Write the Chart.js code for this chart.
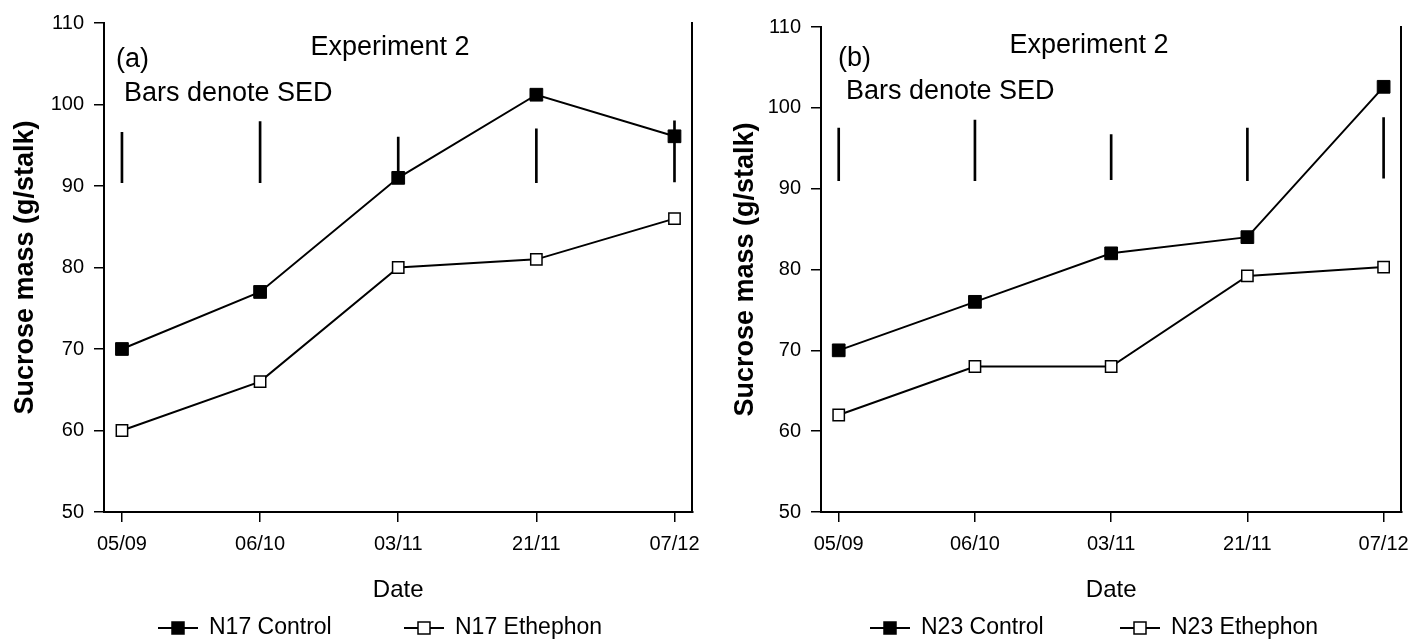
<!DOCTYPE html>
<html><head><meta charset="utf-8">
<script src="https://cdn.jsdelivr.net/npm/chart.js@4.4.0/dist/chart.umd.min.js"></script>
<style>
html,body{margin:0;padding:0;background:#fff;}
#wrap{position:relative;width:1419px;height:640px;background:#fff;}
.pane{position:absolute;top:0;height:640px;}
#pa{left:0;width:710px;}
#pb{left:710px;width:709px;}
</style></head><body>
<div id="wrap">
<div class="pane" id="pa"><canvas id="ca"></canvas></div>
<div class="pane" id="pb"><canvas id="cb"></canvas></div>
</div>
<script>
// ---- data ----
const dates = ['05/09', '06/10', '03/11', '21/11', '07/12'];
const yTicks = [50, 60, 70, 80, 90, 100, 110];

const n17Control  = [70, 77, 91, 101.2, 96.1];
const n17Ethephon = [60, 66, 80, 81, 86];
const n17SedLow   = [90.4, 90.4, 91, 90.4, 90.5];
const n17SedHigh  = [96.6, 97.9, 96, 97, 98];

const n23Control  = [70, 76, 82, 84, 102.6];
const n23Ethephon = [62, 68, 68, 79.2, 80.3];
const n23SedLow   = [91, 91, 91.1, 91, 91.3];
const n23SedHigh  = [97.5, 98.5, 96.7, 97.5, 98.8];

const FAM = '"Liberation Sans", Arial, Helvetica, sans-serif';

const notesPlugin = {
  id: 'notes',
  afterDraw(chart, args, opts) {
    const ctx = chart.ctx;
    ctx.save();
    (opts.items || []).forEach(it => {
      ctx.font = it.font;
      ctx.fillStyle = '#000';
      ctx.textAlign = it.align || 'left';
      ctx.textBaseline = 'alphabetic';
      ctx.fillText(it.text, it.x, it.y);
    });
    const lg = opts.legend;
    if (lg) {
      const lines = chart.data.datasets.filter(d => d.type === 'line');
      lines.forEach((ds, i) => {
        const x = lg.xs[i], y = lg.y, s = lg.box;
        ctx.strokeStyle = '#000';
        ctx.lineWidth = 2;
        ctx.beginPath(); ctx.moveTo(x, y); ctx.lineTo(x + lg.w, y); ctx.stroke();
        const cx = x + lg.w / 2;
        ctx.fillStyle = ds.pointBackgroundColor;
        ctx.fillRect(cx - s / 2, y - s / 2, s, s);
        ctx.lineWidth = 1.5;
        ctx.strokeRect(cx - s / 2, y - s / 2, s, s);
        ctx.fillStyle = '#000';
        ctx.font = lg.font;
        ctx.textAlign = 'left';
        ctx.textBaseline = 'middle';
        ctx.fillText(ds.label, x + lg.w + lg.gap, y);
      });
    }
    ctx.restore();
  }
};

function build(canvasId, labels, ctrl, eth, sedLo, sedHi, layout) {
  const pts = arr => dates.map((_, i) => ({ x: i, y: arr[i] }));
  const tickFont = { family: FAM, size: 20 };
  return new Chart(document.getElementById(canvasId), {
    type: 'line',
    data: {
      datasets: [
        {
          type: 'bar', label: 'SED',
          data: dates.map((_, i) => ({ x: i, y: [sedLo[i], sedHi[i]] })),
          backgroundColor: '#000', borderWidth: 0, barThickness: 2, grouped: false, order: 3
        },
        {
          type: 'line', label: labels[0], data: pts(ctrl),
          borderColor: '#000', borderWidth: 2, tension: 0,
          pointStyle: 'rect', pointRadius: 9, pointBackgroundColor: '#000',
          pointBorderColor: '#000', pointBorderWidth: 1, order: 1
        },
        {
          type: 'line', label: labels[1], data: pts(eth),
          borderColor: '#000', borderWidth: 2, tension: 0,
          pointStyle: 'rect', pointRadius: 8, pointBackgroundColor: '#fff',
          pointBorderColor: '#000', pointBorderWidth: 1.5, order: 2
        }
      ]
    },
    options: {
      responsive: true, maintainAspectRatio: false, animation: false,
      layout: { padding: layout.padding },
      plugins: {
        legend: { display: false }, tooltip: { enabled: false },
        notes: { items: layout.items, legend: layout.legend }
      },
      scales: {
        x: {
          type: 'linear', min: -0.13, max: 4.13, offset: false,
          afterBuildTicks: s => { s.ticks = dates.map((_, i) => ({ value: i })); },
          ticks: { callback: v => dates[v], font: tickFont, color: '#000', padding: 10, maxRotation: 0, autoSkip: false },
          grid: { display: true, offset: false, drawOnChartArea: false, drawTicks: true, tickLength: 10, color: '#000', lineWidth: 1.5 },
          border: { display: true, color: '#000', width: 2 },
          title: { display: true, text: 'Date', color: '#000', font: { family: FAM, size: 24, lineHeight: 1 }, padding: { top: 0, bottom: 0 } },
          afterFit: s => { s.height = 90; }
        },
        y: {
          type: 'linear', min: yTicks[0], max: yTicks[yTicks.length - 1],
          afterBuildTicks: s => { s.ticks = yTicks.map(v => ({ value: v })); },
          ticks: { font: tickFont, color: '#000', padding: 10 },
          grid: { display: true, drawOnChartArea: false, drawTicks: true, tickLength: 10, color: '#000', lineWidth: 1.5 },
          border: { display: true, color: '#000', width: 2 },
          title: { display: true, text: 'Sucrose mass (g/stalk)', color: '#000', font: { family: FAM, size: 27, weight: 'bold', lineHeight: 1 }, padding: { top: layout.titlePad, bottom: 0 } },
          afterFit: s => { s.width = layout.yWidth; }
        },
        y2: {
          type: 'linear', position: 'right', min: yTicks[0], max: yTicks[yTicks.length - 1],
          ticks: { display: false }, grid: { display: false },
          border: { display: true, color: '#000', width: 2 },
          afterFit: s => { s.width = 0; }
        }
      }
    },
    plugins: [notesPlugin]
  });
}

const noteFont = '27px ' + FAM;
build('ca', ['N17 Control', 'N17 Ethephon'], n17Control, n17Ethephon, n17SedLow, n17SedHigh, {
  padding: { left: 0, right: 16, top: 23, bottom: 38 },
  yWidth: 104, titlePad: 12,
  items: [
    { text: 'Experiment 2', x: 390, y: 55, font: noteFont, align: 'center' },
    { text: '(a)', x: 116, y: 67, font: noteFont },
    { text: 'Bars denote SED', x: 124, y: 101, font: noteFont }
  ],
  legend: { xs: [158, 404], y: 628, w: 40, box: 12, gap: 11, font: '23px ' + FAM }
});
build('cb', ['N23 Control', 'N23 Ethephon'], n23Control, n23Ethephon, n23SedLow, n23SedHigh, {
  padding: { left: 0, right: 12, top: 27, bottom: 38 },
  yWidth: 111, titlePad: 22,
  items: [
    { text: 'Experiment 2', x: 379, y: 53, font: noteFont, align: 'center' },
    { text: '(b)', x: 128, y: 66, font: noteFont },
    { text: 'Bars denote SED', x: 136, y: 99, font: noteFont }
  ],
  legend: { xs: [160, 410], y: 628, w: 40, box: 12, gap: 11, font: '23px ' + FAM }
});
</script>
</body></html>
